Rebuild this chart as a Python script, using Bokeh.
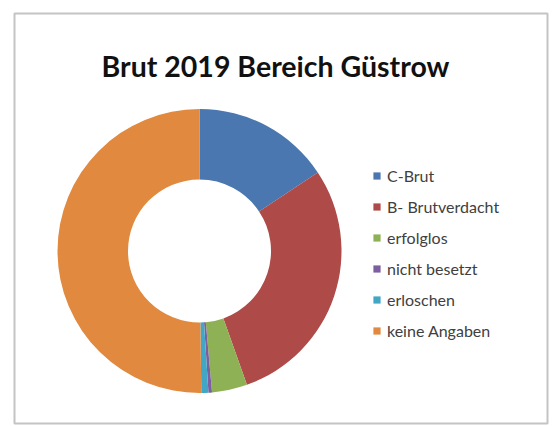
import numpy as np
from bokeh.plotting import figure
from bokeh.models import ColumnDataSource, Range1d, Legend, LegendItem, Label
from bokeh.embed import file_html
from bokeh.resources import INLINE

# ---- data ----
categories = ["C-Brut", "B- Brutverdacht", "erfolglos", "nicht besetzt", "erloschen", "keine Angaben"]
counts = [39, 72, 10, 1, 2, 125]
colors = ["#4a77b0", "#ae4a47", "#8fb155", "#7c5fa0", "#41a7c4", "#e0893f"]
title_text = "Brut 2019 Bereich Güstrow"

# ---- geometry ----
W, H = 554, 426
ML, MT, MR, MB = 14, 13, 7, 3
FW, FH = W - ML - MR, H - MT - MB

vals = np.array(counts, dtype=float)
frac = vals / vals.sum()
cum = np.concatenate([[0], np.cumsum(frac)]) * 2 * np.pi
start = np.pi / 2 - cum[:-1]
end = np.pi / 2 - cum[1:]

src = ColumnDataSource(dict(cat=categories, start=start, end=end, color=colors))

p = figure(width=W, height=H, output_backend="svg", toolbar_location=None,
           x_axis_type=None, y_axis_type=None,
           x_range=Range1d(0, FW), y_range=Range1d(0, FH),
           min_border_left=ML, min_border_top=MT, min_border_right=MR, min_border_bottom=MB)
p.grid.visible = False
p.outline_line_color = "#c4c4c4"
p.outline_line_width = 2
p.background_fill_color = "white"
p.border_fill_color = "white"

cx, cy = 185, 172.5
r = p.annular_wedge(x=cx, y=cy, inner_radius=71.5, outer_radius=142,
                    start_angle="start", end_angle="end", direction="clock",
                    fill_color="color", line_color=None, source=src)

items = [LegendItem(label=c, renderers=[r], index=i) for i, c in enumerate(categories)]
legend = Legend(items=items, location=(358, 83), orientation="vertical",
                glyph_width=9, glyph_height=9, label_height=20, spacing=11,
                label_standoff=6, padding=0, margin=0,
                border_line_color=None, background_fill_alpha=0,
                label_text_font="Lato", label_text_font_size="16px",
                label_text_color="#404040")
p.add_layout(legend, "center")

t = Label(x=261, y=358, text=title_text, text_align="center", text_baseline="alphabetic",
          text_font="Lato", text_font_style="bold", text_font_size="28.5px", text_color="#111111")
p.add_layout(t)

open("out.html", "w").write(file_html(p, INLINE))
